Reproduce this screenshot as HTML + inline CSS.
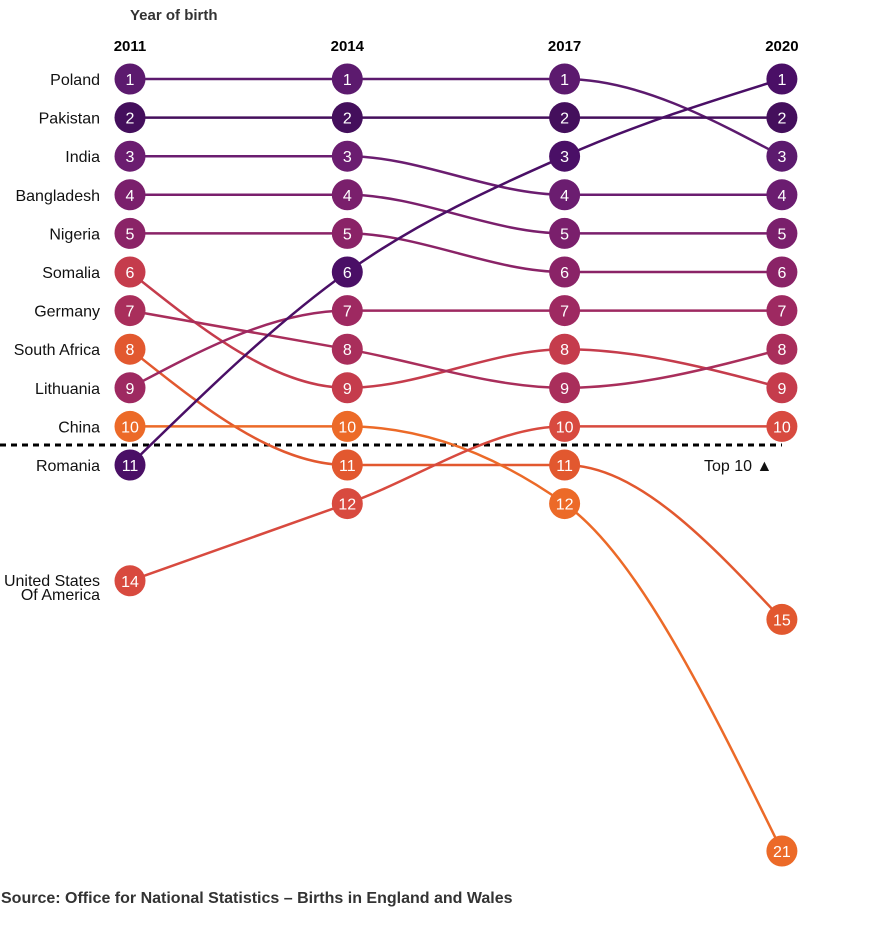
<!DOCTYPE html>
<html><head><meta charset="utf-8"><style>
body{margin:0;background:#fff;font-family:"Liberation Sans",Arial,sans-serif;}
svg{display:block}
</style></head><body>
<svg id="chart" width="879" height="926">
<text x="130" y="20" font-size="15" font-weight="bold" fill="#333">Year of birth</text>
<text x="1" y="903" font-size="16" font-weight="bold" fill="#333">Source: Office for National Statistics – Births in England and Wales</text>
<line x1="0" y1="445" x2="782" y2="445" stroke="#000" stroke-width="3" stroke-dasharray="6,5"/>
<text x="704" y="471" font-size="16" fill="#111">Top 10 ▲</text>
<g id="lines"></g><g id="dots"></g><g id="labels"></g>
</svg>
<script>
const years=["2011","2014","2017","2020"];
const countries=["Poland","Pakistan","India","Bangladesh","Nigeria","Somalia","Germany","South Africa","Lithuania","China","Romania","United States Of America"];
const ranks=[[1,1,1,3],[2,2,2,2],[3,3,4,4],[4,4,5,5],[5,5,6,6],[6,9,8,9],[7,8,9,8],[8,11,11,15],[9,7,7,7],[10,10,12,21],[11,6,3,1],[14,12,10,10]];
const colors=["#5c1a6e","#440f5c","#6b1d70","#7a1f6c","#8a2367","#c53c4c","#a92e5b","#e2582f","#9e2961","#ec6a28","#4a0f66","#d84a3f"];
const NS="http://www.w3.org/2000/svg";
const xS=i=>130+i*217.3;
const yS=r=>79+(r-1)*38.6;
const svg=document.getElementById('chart');
years.forEach((y,i)=>{const t=document.createElementNS(NS,'text');t.setAttribute('x',xS(i));t.setAttribute('y',51);t.setAttribute('text-anchor','middle');t.setAttribute('font-size','15');t.setAttribute('font-weight','bold');t.textContent=y;


svg.appendChild(t);});
function monotone(pts){const n=pts.length,d=[],m=[];for(let i=0;i<n-1;i++)d.push((pts[i+1][1]-pts[i][1])/(pts[i+1][0]-pts[i][0]));
for(let i=0;i<n;i++){if(i==0||i==n-1){m.push(null);continue;}const a=d[i-1],b=d[i];if(a*b<=0)m.push(0);else{const h0=pts[i][0]-pts[i-1][0],h1=pts[i+1][0]-pts[i][0];const p=(a*h1+b*h0)/(h0+h1);m.push((Math.sign(a)+Math.sign(b))*Math.min(Math.abs(a),Math.abs(b),0.5*Math.abs(p)));}}
m[0]=n>2?(3*d[0]-m[1])/2:d[0];m[n-1]=n>2?(3*d[n-2]-m[n-2])/2:d[n-2];
let s="M"+pts[0][0]+","+pts[0][1];for(let i=0;i<n-1;i++){const h=(pts[i+1][0]-pts[i][0])/3;s+=" C"+(pts[i][0]+h)+","+(pts[i][1]+h*m[i])+" "+(pts[i+1][0]-h)+","+(pts[i+1][1]-h*m[i+1])+" "+pts[i+1][0]+","+pts[i+1][1];}return s;}
const L=document.getElementById('lines'),D=document.getElementById('dots'),T=document.getElementById('labels');
countries.forEach((c,k)=>{const pts=ranks[k].map((r,i)=>[xS(i),yS(r)]);
const p=document.createElementNS(NS,'path');p.setAttribute('d',monotone(pts));p.setAttribute('fill','none');p.setAttribute('stroke',colors[k]);p.setAttribute('stroke-width','2.5');


L.appendChild(p);
ranks[k].forEach((r,i)=>{const g=document.createElementNS(NS,'g');


const ci=document.createElementNS(NS,'circle');ci.setAttribute('cx',xS(i));ci.setAttribute('cy',yS(r));ci.setAttribute('r',15.5);ci.setAttribute('fill',colors[k]);g.appendChild(ci);
const t=document.createElementNS(NS,'text');t.setAttribute('x',xS(i));t.setAttribute('y',yS(r)+6);t.setAttribute('text-anchor','middle');t.setAttribute('font-size','16');t.setAttribute('fill','#fff');t.textContent=r;g.appendChild(t);D.appendChild(g);});
const lab=document.createElementNS(NS,'text');lab.setAttribute('text-anchor','end');lab.setAttribute('font-size','16');lab.setAttribute('fill','#111');


const y0=yS(ranks[k][0]);
if(c.length>15){const a=document.createElementNS(NS,'tspan');a.setAttribute('x',100);a.setAttribute('y',y0+5);a.textContent="United States";const b=document.createElementNS(NS,'tspan');b.setAttribute('x',100);b.setAttribute('y',y0+19);b.textContent="Of America";lab.appendChild(a);lab.appendChild(b);}
else{lab.setAttribute('x',100);lab.setAttribute('y',y0+6);lab.textContent=c;}
T.appendChild(lab);});
</script>
</body></html>
